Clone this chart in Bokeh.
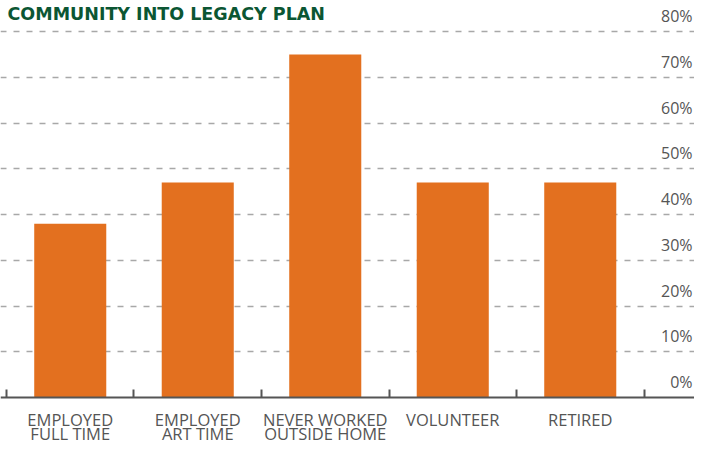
from bokeh.plotting import figure
from bokeh.models import Range1d, FixedTicker, Label, LinearAxis, Grid
from bokeh.embed import file_html
from bokeh.resources import INLINE
from bokeh.core.properties import value

# ---- data ----
categories = ["EMPLOYED\nFULL TIME", "EMPLOYED\nART TIME", "NEVER WORKED\nOUTSIDE HOME",
              "VOLUNTEER", "RETIRED"]
values = [38, 47, 75, 47, 47]
y_ticks = [0, 10, 20, 30, 40, 50, 60, 70, 80]
y_labels = ["0%", "10%", "20%", "30%", "40%", "50%", "60%", "70%", "80%"]
title_text = "COMMUNITY INTO LEGACY PLAN"

BAR = "#e3701f"
GREEN = "#0b5633"
GRAY = "#555555"

n = len(categories)
centers = [i + 0.5 for i in range(n)]
x_start, x_end = -0.047, 5.396
y_start, y_end = -10.27, 86.78

p = figure(width=694, height=444, output_backend="svg", toolbar_location=None,
           x_range=Range1d(x_start, x_end), y_range=Range1d(y_start, y_end),
           x_axis_type=None, y_axis_type=None,
           min_border_left=0, min_border_right=0, min_border_top=0, min_border_bottom=0)
p.outline_line_color = None
p.background_fill_color = "white"
p.border_fill_color = "white"

grid = Grid(dimension=1, ticker=FixedTicker(ticks=y_ticks[1:]),
            grid_line_color="#a8a8a8", grid_line_width=1.5, grid_line_dash="6 7")
p.add_layout(grid)

p.vbar(x=centers, top=values, width=0.565, fill_color=BAR, line_color=None)

# y tick labels (sitting above their grid lines, right aligned)
p.text(x=[x_end] * len(y_ticks), y=y_ticks, text=y_labels,
       text_align="right", text_baseline="middle", x_offset=-2, y_offset=-15.5,
       text_font=value("Open Sans"), text_font_size="16px", text_color=GRAY)

# baseline axis at y = 0 with category-boundary ticks
xaxis = LinearAxis(ticker=FixedTicker(ticks=[], minor_ticks=list(range(n + 1))),
                   fixed_location=0)
xaxis.axis_line_color = GRAY
xaxis.axis_line_width = 2
xaxis.major_tick_in = 0
xaxis.major_tick_out = 0
xaxis.minor_tick_in = 8
xaxis.minor_tick_out = 0
xaxis.minor_tick_line_color = GRAY
xaxis.minor_tick_line_width = 2
xaxis.major_label_standoff = 0
xaxis.major_label_text_font_size = "0px"
p.add_layout(xaxis, "below")

# category labels (two lines)
line1 = [c.split("\n")[0] for c in categories]
line2 = [c.split("\n")[1] if "\n" in c else "" for c in categories]
for txt, off in ((line1, 21.5), (line2, 35.5)):
    p.text(x=centers, y=[0] * n, text=txt, y_offset=off,
           text_align="center", text_baseline="middle",
           text_font=value("Open Sans"), text_font_size="16.5px", text_color=GRAY)

title = Label(x=x_start, y=y_end, x_units="data", y_units="data", text=title_text,
              text_baseline="middle", text_align="left", x_offset=7, y_offset=-13.3,
              text_font="DejaVu Sans", text_font_style="bold", text_font_size="17.5px",
              text_color=GREEN)
p.add_layout(title)

open("out.html", "w").write(file_html(p, INLINE))
